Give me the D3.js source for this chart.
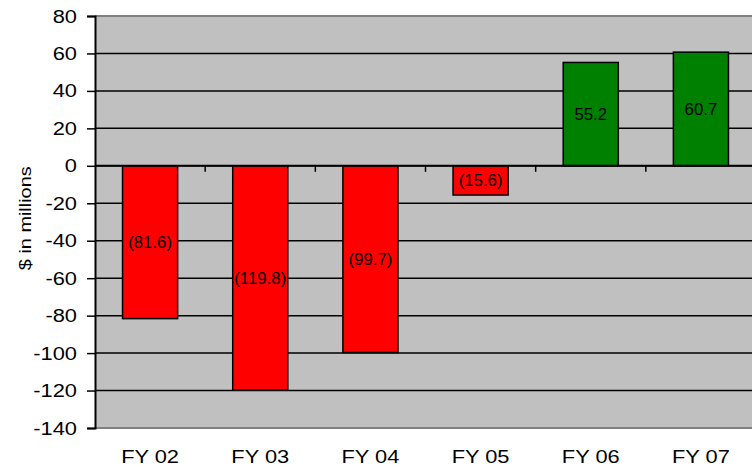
<!DOCTYPE html>
<html>
<head>
<meta charset="utf-8">
<script src="https://cdn.jsdelivr.net/npm/d3@7"></script>
<style>
  body { margin: 0; background: #fff; }
  svg { display: block; font-family: "Liberation Sans", Arial, sans-serif; }
</style>
</head>
<body>
<div id="chart"></div>
<script>
const years = ["FY 02", "FY 03", "FY 04", "FY 05", "FY 06", "FY 07"];
const income = [-81.6, -119.8, -99.7, -15.6, 55.2, 60.7];
const yTicks = [80, 60, 40, 20, 0, -20, -40, -60, -80, -100, -120, -140];

const width = 752, height = 467;
const margin = { top: 16, left: 95 };
const plotW = 661, plotH = 412;
const stretch = 1.15; // the source text is a bit wider than plain Arial

const svg = d3.select("#chart").append("svg")
  .attr("width", width)
  .attr("height", height);

const x = d3.scaleBand()
  .domain(years)
  .range([margin.left, margin.left + plotW])
  .paddingInner(0.5)
  .paddingOuter(0.25);

const y = d3.scaleLinear()
  .domain([-140, 80])
  .range([margin.top + plotH, margin.top]);

// plot background
svg.append("rect")
  .attr("x", margin.left).attr("y", margin.top)
  .attr("width", plotW).attr("height", plotH)
  .attr("fill", "#c0c0c0");

// gridlines
svg.append("g")
  .selectAll("line")
  .data(yTicks.filter(d => d !== 80 && d !== -140))
  .enter().append("line")
  .attr("x1", margin.left).attr("x2", margin.left + plotW)
  .attr("y1", d => y(d)).attr("y2", d => y(d))
  .attr("stroke", "#000")
  .attr("stroke-width", 1.5);

// top / bottom border
svg.append("g")
  .selectAll("line")
  .data([80, -140])
  .enter().append("line")
  .attr("x1", margin.left).attr("x2", margin.left + plotW)
  .attr("y1", d => y(d)).attr("y2", d => y(d))
  .attr("stroke", "#808080")
  .attr("stroke-width", 2);

// bars
svg.append("g")
  .selectAll("rect")
  .data(years)
  .enter().append("rect")
  .attr("x", d => x(d))
  .attr("width", x.bandwidth())
  .attr("y", (d, i) => y(Math.max(0, income[i])))
  .attr("height", (d, i) => Math.abs(y(income[i]) - y(0)))
  .attr("fill", (d, i) => income[i] < 0 ? "#ff0000" : "#008000")
  .attr("stroke", "#000")
  .attr("stroke-width", 1.5);

// zero axis with category ticks
svg.append("line")
  .attr("x1", margin.left).attr("x2", margin.left + plotW)
  .attr("y1", y(0)).attr("y2", y(0))
  .attr("stroke", "#000").attr("stroke-width", 2);
svg.append("g")
  .selectAll("line")
  .data(years.slice(1))
  .enter().append("line")
  .attr("x1", d => x(d) - x.bandwidth() / 2)
  .attr("x2", d => x(d) - x.bandwidth() / 2)
  .attr("y1", y(0)).attr("y2", y(0) + 6)
  .attr("stroke", "#000").attr("stroke-width", 1.5);

// y axis
const yAxis = svg.append("g")
  .attr("transform", `translate(${margin.left},0)`)
  .call(d3.axisLeft(y).tickValues(yTicks).tickFormat(d => String(d)).tickSize(8).tickPadding(10));
yAxis.select(".domain").attr("stroke", "#000").attr("stroke-width", 2);
yAxis.selectAll(".tick line").attr("stroke", "#000").attr("stroke-width", 1.5);
yAxis.selectAll(".tick text")
  .attr("font-size", 19)
  .attr("font-family", "Liberation Sans, Arial, sans-serif")
  .attr("fill", "#000")
  .attr("x", -18 / stretch)
  .attr("transform", `scale(${stretch},1)`);

// x labels
svg.append("g")
  .selectAll("text")
  .data(years)
  .enter().append("text")
  .attr("transform", d => `translate(${x(d) + x.bandwidth() / 2},463) scale(${stretch},1)`)
  .attr("text-anchor", "middle")
  .attr("font-size", 19)
  .text(d => d);

// value labels
svg.append("g")
  .selectAll("text")
  .data(years)
  .enter().append("text")
  .attr("transform", (d, i) => `translate(${x(d) + x.bandwidth() / 2},${y(income[i] / 2)}) scale(1.05,1)`)
  .attr("dy", "0.35em")
  .attr("text-anchor", "middle")
  .attr("font-size", 16)
  .text((d, i) => income[i] < 0 ? `(${Math.abs(income[i]).toFixed(1)})` : income[i].toFixed(1));

// y title
svg.append("text")
  .attr("transform", `translate(31,${y(-28)}) rotate(-90) scale(1.17,1)`)
  .attr("text-anchor", "middle")
  .attr("font-size", 17)
  .text("$ in millions");
</script>
</body>
</html>
